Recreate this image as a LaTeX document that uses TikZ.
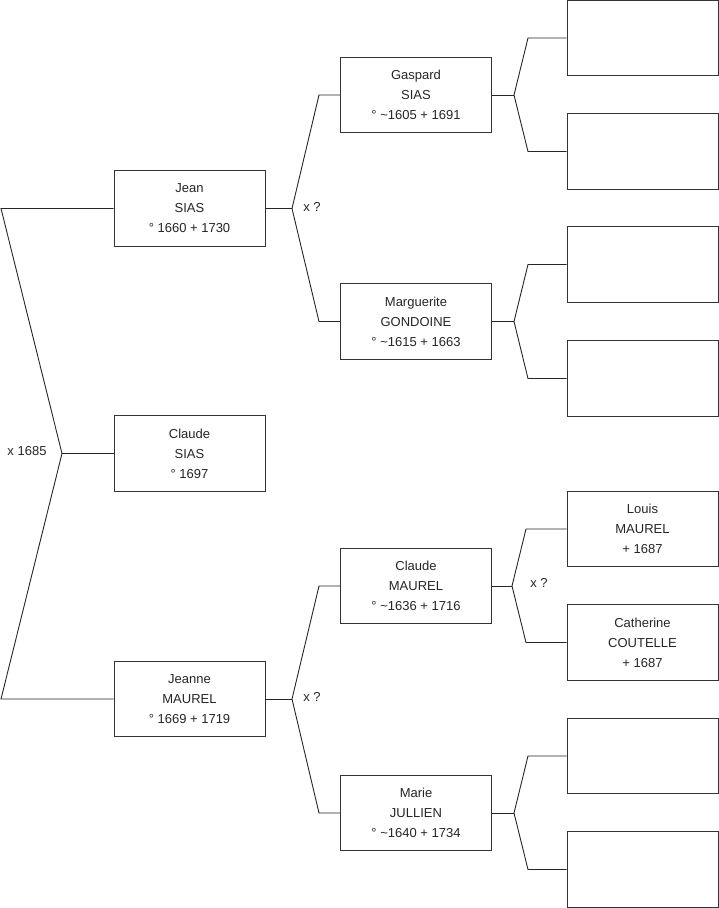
\documentclass[tikz,border=0pt]{standalone}
\usepackage{fontspec}
\setmainfont{Liberation Sans}
\begin{document}
\begin{tikzpicture}[x=1pt,y=-1pt,
  person/.style={draw=black!80, line width=0.9pt, fill=white, minimum width=151pt, minimum height=75.5pt,
    inner sep=0pt, align=center, font=\fontsize{13}{20}\selectfont, text=black!85},
  link/.style={draw=black!85, line width=0.9pt, line join=miter},
  lbl/.style={font=\fontsize{13}{15}\selectfont, text=black!85, inner sep=0pt}]
\useasboundingbox (0,0) rectangle (719,908);
% generation 1
\node[person] (jean)   at (189.5,208.5) {Jean\\SIAS\\° 1660 + 1730};
\node[person] (claude) at (189.5,453.5) {Claude\\SIAS\\° 1697};
\node[person] (jeanne) at (189.5,699)   {Jeanne\\MAUREL\\° 1669 + 1719};
% generation 2
\node[person] (gaspard)    at (416,95)    {Gaspard\\SIAS\\° \textasciitilde1605 + 1691};
\node[person] (marguerite) at (416,321.5) {Marguerite\\GONDOINE\\° \textasciitilde1615 + 1663};
\node[person] (claudem)    at (416,586)   {Claude\\MAUREL\\° \textasciitilde1636 + 1716};
\node[person] (marie)      at (416,813)   {Marie\\JULLIEN\\° \textasciitilde1640 + 1734};
% generation 3
\node[person] (g1) at (642.5,38)    {};
\node[person] (g2) at (642.5,151.5) {};
\node[person] (g3) at (642.5,264.5) {};
\node[person] (g4) at (642.5,378.5) {};
\node[person] (louis)     at (642.5,529)   {Louis\\MAUREL\\+ 1687};
\node[person] (catherine) at (642.5,642.5) {Catherine\\COUTELLE\\+ 1687};
\node[person] (g7) at (642.5,756)   {};
\node[person] (g8) at (642.5,869.5) {};
% root fork
\coordinate (r1) at (1,208.5);
\coordinate (f0) at (62,453.5);
\coordinate (r2) at (1,699);
\draw[link] (jean.west) -- (r1) -- (f0) -- (r2) -- (jeanne.west);
\draw[link] (f0) -- (claude.west);
\node[lbl] (m0) at (27,451.5) {x 1685};
% generation 1 -> 2
\coordinate (fa) at (292,208.5);
\coordinate (fa1) at (319,95);
\coordinate (fa2) at (319,321.5);
\draw[link] (jean.east) -- (fa);
\draw[link] (gaspard.west) -- (fa1) -- (fa) -- (fa2) -- (marguerite.west);
\node[lbl] (m1) at (312,206.5) {x ?};
\coordinate (fb) at (292,699);
\coordinate (fb1) at (319,586);
\coordinate (fb2) at (319,813);
\draw[link] (jeanne.east) -- (fb);
\draw[link] (claudem.west) -- (fb1) -- (fb) -- (fb2) -- (marie.west);
\node[lbl] (m2) at (312,697) {x ?};
% generation 2 -> 3
\coordinate (fc) at (514,95);
\coordinate (fc1) at (528,38);
\coordinate (fc2) at (528,151.5);
\draw[link] (gaspard.east) -- (fc);
\draw[link] (g1.west) -- (fc1) -- (fc) -- (fc2) -- (g2.west);
\coordinate (fd) at (514,321.5);
\coordinate (fd1) at (528,264.5);
\coordinate (fd2) at (528,378.5);
\draw[link] (marguerite.east) -- (fd);
\draw[link] (g3.west) -- (fd1) -- (fd) -- (fd2) -- (g4.west);
\coordinate (fe) at (512,586);
\coordinate (fe1) at (526,529);
\coordinate (fe2) at (526,642.5);
\draw[link] (claudem.east) -- (fe);
\draw[link] (louis.west) -- (fe1) -- (fe) -- (fe2) -- (catherine.west);
\node[lbl] (m3) at (539,582.5) {x ?};
\coordinate (ff) at (514,813);
\coordinate (ff1) at (528,756);
\coordinate (ff2) at (528,869.5);
\draw[link] (marie.east) -- (ff);
\draw[link] (g7.west) -- (ff1) -- (ff) -- (ff2) -- (g8.west);
\end{tikzpicture}
\end{document}
